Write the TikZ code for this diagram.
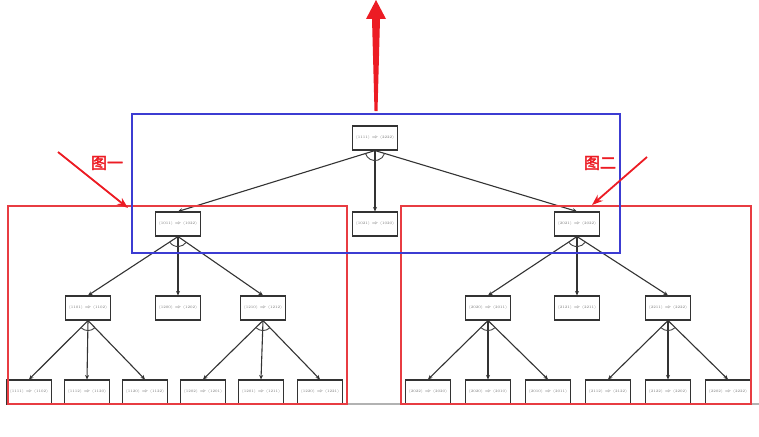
\documentclass[tikz,border=0pt]{standalone}
\usepackage{fontspec}
\newfontfamily\cjk[FakeBold=2.5]{Noto Sans CJK SC}
\usetikzlibrary{arrows.meta}
\definecolor{boxred}{RGB}{232,60,66}
\definecolor{boxblue}{RGB}{60,60,210}
\definecolor{arrred}{RGB}{236,28,36}
\tikzset{
	state/.style={draw=black!80,line width=1.1pt,minimum width=45pt,minimum height=24pt,inner sep=0pt,font=\fontsize{3.7}{4}\selectfont,text=black!55},
	edge/.style={-{Stealth[length=4.5pt,width=4pt]},draw=black!80,line width=1.1pt},
	andarc/.style={draw=black!75,line width=0.9pt}
}
\begin{document}
\begin{tikzpicture}[x=1pt,y=-1pt]
		\useasboundingbox (0,0) rectangle (759,436);
		\draw[black!30,line width=1.2pt] (6,404)--(759,404);
		% tree
		\node[state] (r) at (375,138) {(1111) $\Rightarrow$ (2222)};
		\node[state] (a) at (178,224) {(1011) $\Rightarrow$ (1022)};
		\node[state] (b) at (375,224) {(1021) $\Rightarrow$ (1020)};
		\node[state] (c) at (577,224) {(2021) $\Rightarrow$ (2022)};
		\node[state] (a1) at (88,308) {(1101) $\Rightarrow$ (1102)};
		\node[state] (a2) at (178,308) {(1200) $\Rightarrow$ (1202)};
		\node[state] (a3) at (263,308) {(1210) $\Rightarrow$ (1212)};
		\node[state] (c1) at (488,308) {(2020) $\Rightarrow$ (2011)};
		\node[state] (c2) at (577,308) {(2121) $\Rightarrow$ (2211)};
		\node[state] (c3) at (668,308) {(2211) $\Rightarrow$ (2222)};
		\node[state] (a11) at (29,392) {(1111) $\Rightarrow$ (1102)};
		\node[state] (a12) at (87,392) {(1112) $\Rightarrow$ (1120)};
		\node[state] (a13) at (145,392) {(1120) $\Rightarrow$ (1122)};
		\node[state] (a31) at (203,392) {(1202) $\Rightarrow$ (1201)};
		\node[state] (a32) at (261,392) {(1201) $\Rightarrow$ (1211)};
		\node[state] (a33) at (320,392) {(1220) $\Rightarrow$ (1221)};
		\node[state] (c11) at (428,392) {(2022) $\Rightarrow$ (2020)};
		\node[state] (c12) at (488,392) {(2020) $\Rightarrow$ (2010)};
		\node[state] (c13) at (548,392) {(2010) $\Rightarrow$ (2011)};
		\node[state] (c31) at (608,392) {(2112) $\Rightarrow$ (2122)};
		\node[state] (c32) at (668,392) {(2122) $\Rightarrow$ (2202)};
		\node[state] (c33) at (728,392) {(2202) $\Rightarrow$ (2222)};
		\foreach \p/\q in {r/a,r/b,r/c,a/a1,a/a2,a/a3,c/c1,c/c2,c/c3,
			a1/a11,a1/a12,a1/a13,a3/a31,a3/a32,a3/a33,
			c1/c11,c1/c12,c1/c13,c3/c31,c3/c32,c3/c33}
			\draw[edge] (\p.south)--(\q.north);
		% and-arcs (y points down)
		\draw[andarc] (r.south) ++(163:10) arc (163:17:10);
		\draw[andarc] (a.south) ++(146:10) arc (146:35:10);
		\draw[andarc] (c.south) ++(146:10) arc (146:34:10);
		\foreach \p in {a1,a3,c1,c3}
			\draw[andarc] (\p.south) ++(135:10) arc (135:46:10);
		% frames
		\draw[boxred,line width=1.1pt] (8,206) rectangle (347,404);
		\draw[boxred,line width=1.1pt] (401,206) rectangle (751,404);
		\draw[boxblue,line width=1.4pt] (132,114) rectangle (620,253);
		% pointers
		\fill[arrred] (374.5,111)--(372,19)--(366,19)--(376,0)--(386,19)--(380,19)--(377.5,111)--cycle;
		\coordinate (p1) at (58,152);
		\coordinate (q1) at (128,208);
		\coordinate (p2) at (647,157);
		\coordinate (q2) at (592,205);
		\draw[arrred,line width=1.8pt,-{Stealth[length=11pt,width=8pt]}] (p1)--(q1);
		\draw[arrred,line width=1.8pt,-{Stealth[length=11pt,width=8pt]}] (p2)--(q2);
		\node[text=arrred,font=\cjk\fontsize{16}{16}\selectfont] (l1) at (107,163) {图一};
		\node[text=arrred,font=\cjk\fontsize{16}{16}\selectfont] (l2) at (600,163) {图二};
	\end{tikzpicture}
\end{document}
